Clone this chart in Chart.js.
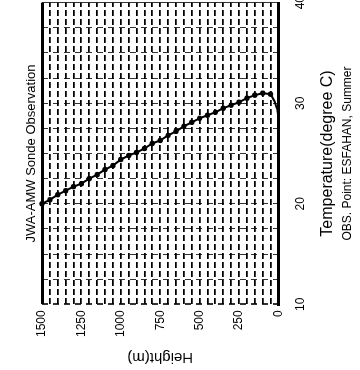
<!DOCTYPE html>
<html>
<head>
<meta charset="utf-8">
<script src="https://cdn.jsdelivr.net/npm/chart.js@4.4.0/dist/chart.umd.min.js"></script>
<style>
    html, body { margin: 0; padding: 0; background: #fff; overflow: hidden; }
    #page { position: relative; width: 360px; height: 370px; overflow: hidden; background: #fff; }
    /* the scanned figure is turned a quarter turn to the left */
    #turn { position: absolute; left: 0; top: 0; width: 389px; height: 360px; transform-origin: 0 0; transform: translateY(370px) rotate(-90deg); }
</style>
</head>
<body>
<div id="page"><div id="turn"><canvas id="sonde" width="389" height="360"></canvas></div></div>
<script>
const heights = [1500, 1450, 1400, 1350, 1300, 1250, 1200, 1150, 1100, 1050, 1000, 950, 900, 850, 800, 750,
    700, 650, 600, 550, 500, 450, 400, 350, 300, 250, 200, 150, 100, 50, 25, 8, 0]
const temps = [20.0, 20.4, 20.9, 21.3, 21.7, 22.0, 22.5, 22.9, 23.4, 23.8, 24.4, 24.8, 25.1, 25.5, 26.0, 26.3,
    26.8, 27.2, 27.7, 28.1, 28.5, 28.8, 29.1, 29.5, 29.8, 30.1, 30.5, 30.8, 31.0, 30.9, 30.2, 29.4, 28.6]
const tempTicks = [10, 20, 30, 40]
const heightTicks = [0, 250, 500, 750, 1000, 1250, 1500]

const font = "'Liberation Sans', Arial, sans-serif"

const ctx = document.getElementById("sonde").getContext("2d")

const chart = new Chart(ctx, {
    type: "line",
    data: {
        datasets: [{
            data: heights.map((h, i) => ({ x: temps[i], y: h })),
            borderColor: "#000",
            borderWidth: 2,
            pointRadius: heights.map(h => h >= 50 ? 2.7 : 0),
            pointBackgroundColor: "#000",
            pointBorderWidth: 0,
            tension: 0,
            clip: false
        }]
    },
    options: {
        responsive: false,
        animation: false,
        layout: { padding: { left: 0, right: 4, top: 0, bottom: 0 } },
        plugins: {
            legend: { display: false },
            tooltip: { enabled: false },
            title: {
                display: true,
                fullSize: false,
                text: "JWA-AMW Sonde Observation",
                color: "#000",
                font: { family: font, size: 13, weight: "normal", lineHeight: 1.2 },
                padding: { top: 24, bottom: 2.4 }
            },
            subtitle: {
                display: true,
                fullSize: false,
                position: "bottom",
                text: "OBS. Point: ESFAHAN, Summer",
                color: "#000",
                font: { family: font, size: 12, lineHeight: 1.2 },
                padding: { top: 1.8, bottom: 4.8 }
            }
        },
        scales: {
            x: {
                type: "linear",
                min: 10,
                max: 40,
                ticks: {
                    stepSize: 2.5,
                    autoSkip: false,
                    maxRotation: 0,
                    padding: 15,
                    color: "#000",
                    font: { family: font, size: 12 },
                    callback: v => tempTicks.includes(v) ? v : ""
                },
                grid: {
                    drawTicks: false,
                    color: "#333",
                    lineWidth: c => c.tick && c.tick.value === 10 ? 2 : 1
                },
                border: {
                    display: true,
                    color: "#000",
                    width: 3,
                    dash: c => c.tick && c.tick.value === 40 ? [] : [6, 5]
                },
                title: {
                    display: true,
                    text: "Temperature(degree C)",
                    color: "#000",
                    font: { family: font, size: 16, lineHeight: 1.2 },
                    padding: { top: -5, bottom: 2 }
                }
            },
            y: {
                type: "linear",
                min: 0,
                max: 1500,
                ticks: {
                    stepSize: 50,
                    autoSkip: false,
                    padding: 6,
                    color: "#000",
                    font: { family: font, size: 12 },
                    callback: v => heightTicks.includes(v) ? v : ""
                },
                grid: {
                    drawTicks: false,
                    color: "#000",
                    lineWidth: c => c.tick && (c.tick.value === 1500 || c.tick.value === 0) ? 3 : 1.8
                },
                border: {
                    display: false,
                    dash: c => c.tick && (c.tick.value === 1500 || c.tick.value === 0) ? [] : [6, 3]
                },
                title: {
                    display: true,
                    text: "Height(m)",
                    color: "#000",
                    font: { family: font, size: 15, lineHeight: 1.2 },
                    padding: { top: 4, bottom: 5 }
                }
            }
        }
    }
})
</script>
</body>
</html>
